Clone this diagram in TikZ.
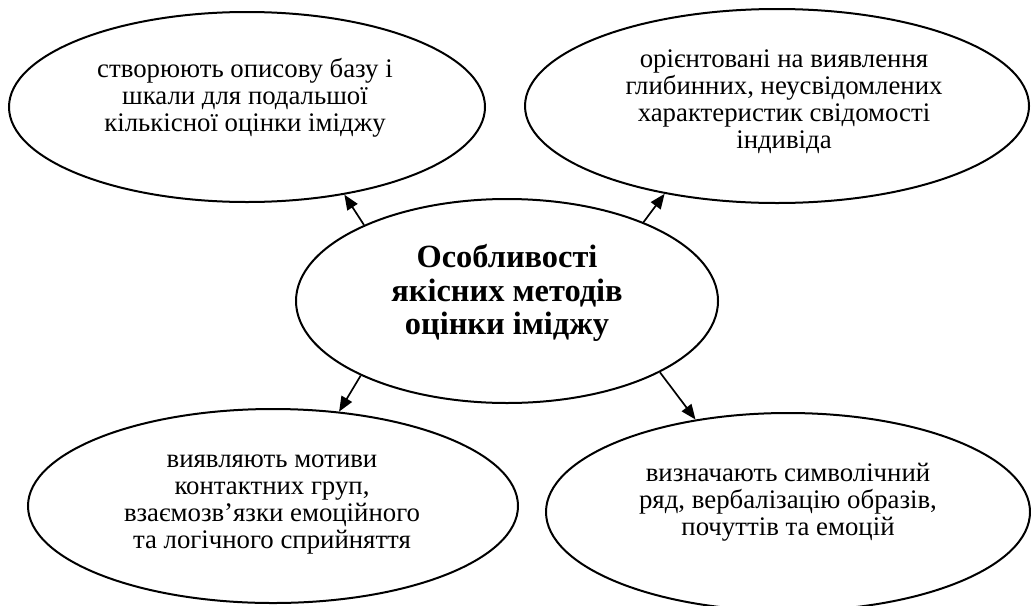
\documentclass[tikz,border=0pt]{standalone}
\usepackage{fontspec}
\setmainfont{Liberation Serif}
\usetikzlibrary{shapes.geometric,arrows.meta}
\tikzset{
  oval/.style={ellipse, draw, line width=1pt, inner sep=0pt},
  txt/.style={align=center, inner sep=0pt, font=\fontsize{13.4}{13.5}\selectfont},
  maintxt/.style={align=center, inner sep=0pt, font=\fontsize{16.2}{16.9}\selectfont\bfseries},
  arr/.style={line width=0.85pt, -{Triangle[length=7.5pt,width=6pt]}}
}
\begin{document}
\begin{tikzpicture}[x=0.5pt,y=-0.5pt]
\path[use as bounding box, fill=white] (0,0) rectangle (1031,605);
\node[oval, minimum width=238pt, minimum height=95pt] (tl) at (247,107) {};
\node[oval, minimum width=252pt, minimum height=97pt] (tr) at (777,106) {};
\node[oval, minimum width=211pt, minimum height=102pt] (c) at (507,301) {};
\node[oval, minimum width=245pt, minimum height=97pt] (bl) at (273,506) {};
\node[oval, minimum width=242pt, minimum height=99pt] (br) at (788,512) {};
\node[txt] (tlt) at (245,98) {створюють описову базу і\\шкали для подальшої\\кількісної оцінки іміджу};
\node[txt] (trt) at (784,102) {орієнтовані на виявлення\\глибинних, неусвідомлених\\характеристик свідомості\\індивіда};
\node[maintxt] (ct) at (507,293) {Особливості\\якісних методів\\оцінки іміджу};
\node[txt] (blt) at (272,505) {виявляють мотиви\\контактних груп,\\взаємозв’язки емоційного\\та логічного сприйняття};
\node[txt] (brt) at (788,502) {визначають символічний\\ряд, вербалізацію образів,\\почуттів та емоцій};
\draw[arr] (c.152) -- (tl.-42.7);
\draw[arr] (c.30.7) -- (tr.-142);
\draw[arr] (c.207.7) -- (bl.55.2);
\draw[arr] (c.-25.3) -- (br.135);
\end{tikzpicture}
\end{document}
